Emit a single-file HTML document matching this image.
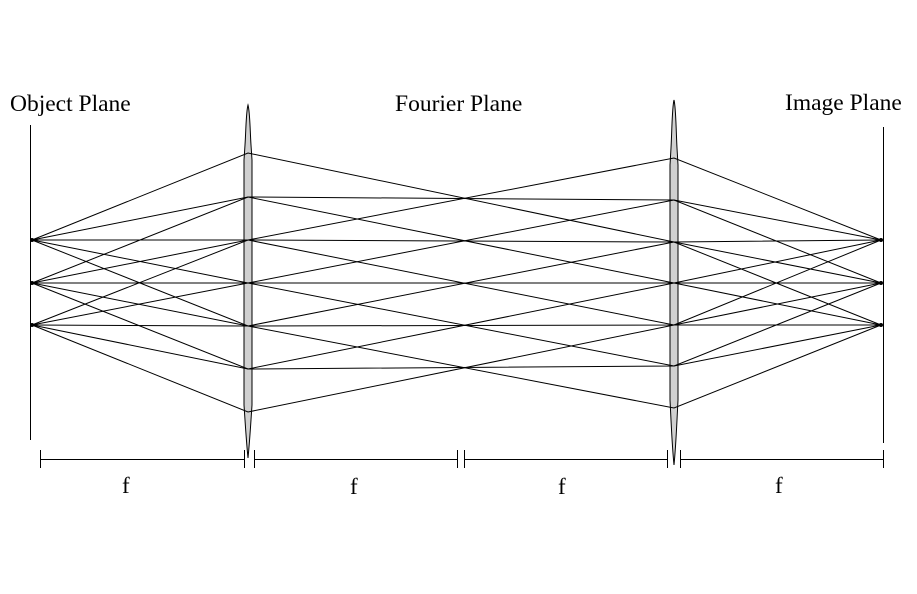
<!DOCTYPE html>
<html><head><meta charset="utf-8"><style>
html,body{margin:0;padding:0;background:#fff;}
svg{display:block;}
text{font-family:"Liberation Serif",serif;fill:#000;}
</style></head><body>
<svg width="917" height="594" viewBox="0 0 917 594" xmlns="http://www.w3.org/2000/svg">
<rect width="917" height="594" fill="#fff"/>
<text x="10" y="111" font-size="23.5">Object Plane</text>
<text x="395" y="111" font-size="23.5">Fourier Plane</text>
<text x="785" y="110" font-size="23.5">Image Plane</text>
<line x1="30.5" y1="125" x2="30.5" y2="440" stroke="#000" stroke-width="1"/>
<line x1="883.5" y1="127" x2="883.5" y2="443" stroke="#000" stroke-width="1"/>
<path d="M248,105 C250,112 250,130 251,145 L252,160 L252,405 L251,420 C250,435 249,448 248,458 C247,448 246,435 245,420 L244,405 L244,160 L245,145 C246,130 246,112 248,105Z" fill="#d0d0d0" stroke="#000" stroke-width="1"/>
<path d="M674,100 C676,108 676,130 677,148 L678,165 L678,400 L677,420 C676,440 675,455 674,465 C673,455 672,440 671,420 L670,400 L670,165 L671,148 C672,130 672,108 674,100Z" fill="#d0d0d0" stroke="#000" stroke-width="1"/>
<g fill="none" stroke="#000" stroke-width="1">
<polyline points="32,240 248,153 674,242 881,325"/>
<polyline points="32,240 248,197 674,283 881,325"/>
<polyline points="32,240 248,240 674,325 881,325"/>
<polyline points="32,240 248,283 674,366 881,325"/>
<polyline points="32,240 248,326 674,408 881,325"/>
<polyline points="32,283 248,197 674,200 881,283"/>
<polyline points="32,283 248,240 674,242 881,283"/>
<polyline points="32,283 248,283 674,283 881,283"/>
<polyline points="32,283 248,326 674,325 881,283"/>
<polyline points="32,283 248,369 674,366 881,283"/>
<polyline points="32,325 248,240 674,158 881,240"/>
<polyline points="32,325 248,283 674,200 881,240"/>
<polyline points="32,325 248,326 674,242 881,240"/>
<polyline points="32,325 248,369 674,283 881,240"/>
<polyline points="32,325 248,412 674,325 881,240"/>
</g>
<g fill="#000">
<circle cx="32" cy="240" r="2"/><circle cx="32" cy="283" r="2"/><circle cx="32" cy="325" r="2"/>
<circle cx="881" cy="240" r="2"/><circle cx="881" cy="283" r="2"/><circle cx="881" cy="325" r="2"/>
</g>
<g stroke="#000" stroke-width="1">
<line x1="40" y1="459.5" x2="244" y2="459.5"/>
<line x1="254" y1="459.5" x2="457" y2="459.5"/>
<line x1="464" y1="459.5" x2="667" y2="459.5"/>
<line x1="680" y1="459.5" x2="883" y2="459.5"/>
<line x1="40.5" y1="450" x2="40.5" y2="468"/>
<line x1="244.5" y1="450" x2="244.5" y2="468"/>
<line x1="254.5" y1="450" x2="254.5" y2="468"/>
<line x1="457.5" y1="450" x2="457.5" y2="468"/>
<line x1="464.5" y1="450" x2="464.5" y2="468"/>
<line x1="667.5" y1="450" x2="667.5" y2="468"/>
<line x1="680.5" y1="450" x2="680.5" y2="468"/>
<line x1="883.5" y1="450" x2="883.5" y2="468"/>
</g>
<text x="122" y="493" font-size="23">f</text>
<text x="350" y="494" font-size="23">f</text>
<text x="558" y="494" font-size="23">f</text>
<text x="775" y="493" font-size="23">f</text>
</svg>
</body></html>
